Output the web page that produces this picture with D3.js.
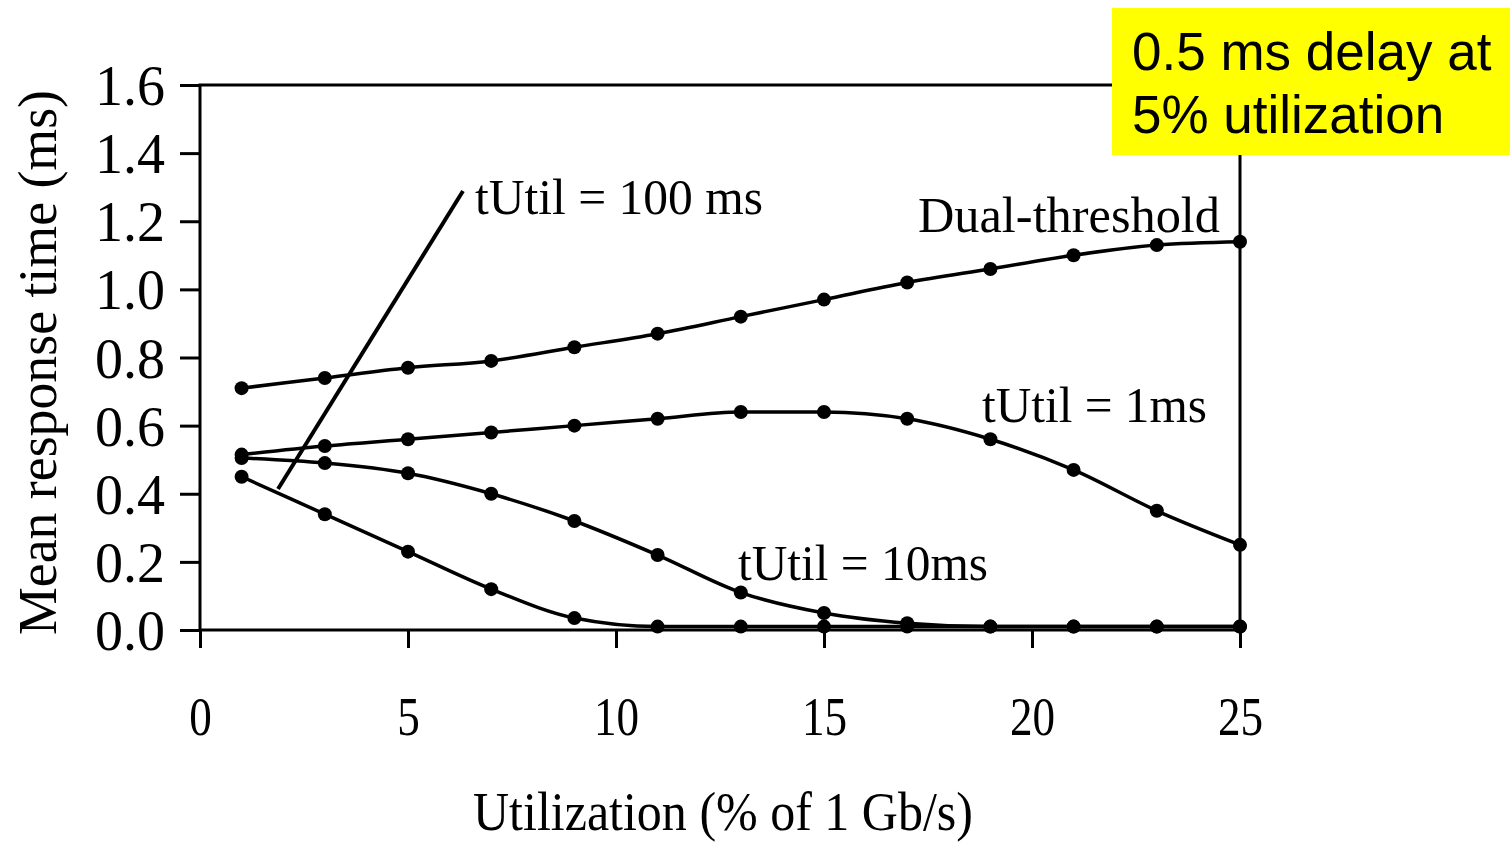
<!DOCTYPE html>
<html>
<head>
<meta charset="utf-8">
<script src="https://cdn.jsdelivr.net/npm/d3@7"></script>
<style>
  body { margin: 0; background: #fff; }
  svg { display: block; }
  text { font-family: "Liberation Serif", "Times New Roman", serif; fill: #000; }
</style>
</head>
<body>
<div id="chart"></div>
<script>
"use strict";

// utilization (% of 1 Gb/s)
var utilization = [1, 3, 5, 7, 9, 11, 13, 15, 17, 19, 21, 23, 25];
var dualThreshold = [0.71, 0.74, 0.77, 0.79, 0.83, 0.87, 0.92, 0.97, 1.02, 1.06, 1.10, 1.13, 1.14];
var tUtil1ms = [0.515, 0.54, 0.56, 0.58, 0.60, 0.62, 0.64, 0.64, 0.62, 0.56, 0.47, 0.35, 0.25];
var tUtil10ms = [0.505, 0.49, 0.46, 0.40, 0.32, 0.22, 0.11, 0.05, 0.02, 0.01, 0.01, 0.01, 0.01];
var tUtil100ms = [0.45, 0.34, 0.23, 0.12, 0.035, 0.01, 0.01, 0.01, 0.01, 0.01, 0.01, 0.01, 0.01];
var xTicks = [0, 5, 10, 15, 20, 25];
var yTicks = [0, 0.2, 0.4, 0.6, 0.8, 1.0, 1.2, 1.4, 1.6];

var W = 1510, H = 843;
var svg = d3.select('#chart').append('svg').attr('width', W).attr('height', H);

var x = d3.scaleLinear().domain([0, 25]).range([200, 1240]);
var y = d3.scaleLinear().domain([0, 1.6]).range([630, 85]);

// frame
svg.append('rect')
  .attr('x', x(0)).attr('y', y(1.6))
  .attr('width', x(25) - x(0)).attr('height', y(0) - y(1.6))
  .attr('fill', 'none').attr('stroke', '#000').attr('stroke-width', 3);

// y axis
var yAxis = svg.append('g').attr('transform', 'translate(' + x(0) + ',0)')
  .call(d3.axisLeft(y).tickValues(yTicks).tickSize(20).tickSizeOuter(0).tickPadding(15).tickFormat(d3.format('.1f')));
yAxis.select('.domain').remove();
yAxis.selectAll('line').attr('stroke-width', 3);
yAxis.selectAll('text').style('font-size', '56px').style('font-family', '"Liberation Serif", serif').attr('dy', '0.35em');

// x axis
var xAxis = svg.append('g').attr('transform', 'translate(0,' + y(0) + ')')
  .call(d3.axisBottom(x).tickValues(xTicks).tickSize(18).tickSizeOuter(0).tickFormat(d3.format('d')));
xAxis.select('.domain').remove();
xAxis.selectAll('line').attr('stroke-width', 3);
xAxis.selectAll('text').remove();
xAxis.selectAll('.tick').append('text')
  .attr('transform', 'translate(0,105) scale(0.82,1)')
  .attr('text-anchor', 'middle')
  .style('font-size', '55px')
  .style('font-family', '"Liberation Serif", serif')
  .text(function (d) { return d; });

// axis titles
svg.append('text')
  .attr('x', 473).attr('y', 830)
  .attr('textLength', 500).attr('lengthAdjust', 'spacingAndGlyphs')
  .style('font-size', '55px')
  .text('Utilization (% of 1 Gb/s)');

svg.append('text')
  .attr('transform', 'translate(56,635) rotate(-90)')
  .attr('textLength', 545).attr('lengthAdjust', 'spacingAndGlyphs')
  .style('font-size', '54px')
  .text('Mean response time (ms)');

// series
var seriesList = [dualThreshold, tUtil1ms, tUtil10ms, tUtil100ms];
var line = d3.line()
  .x(function (d, i) { return x(utilization[i]); })
  .y(function (d) { return y(d); })
  .curve(d3.curveMonotoneX);

seriesList.forEach(function (vals) {
  svg.append('path').datum(vals)
    .attr('d', line)
    .attr('fill', 'none')
    .attr('stroke', '#000')
    .attr('stroke-width', 3.5);
  svg.append('g').selectAll('circle').data(vals).enter().append('circle')
    .attr('cx', function (d, i) { return x(utilization[i]); })
    .attr('cy', function (d) { return y(d); })
    .attr('r', 7)
    .attr('fill', '#000');
});

// series labels
var labels = [
  { t: 'tUtil = 100 ms', x: 475, y: 214, w: 288 },
  { t: 'Dual-threshold', x: 918, y: 232, w: 302 },
  { t: 'tUtil = 1ms', x: 982, y: 422, w: 225 },
  { t: 'tUtil = 10ms', x: 738, y: 580, w: 250 }
];
svg.selectAll('.lbl').data(labels).enter().append('text')
  .attr('class', 'lbl')
  .attr('x', function (d) { return d.x; })
  .attr('y', function (d) { return d.y; })
  .attr('textLength', function (d) { return d.w; })
  .attr('lengthAdjust', 'spacingAndGlyphs')
  .style('font-size', '51px')
  .text(function (d) { return d.t; });

// pointer line for the 100 ms label
svg.append('line')
  .attr('x1', 278).attr('y1', 489).attr('x2', 463).attr('y2', 191)
  .attr('stroke', '#000').attr('stroke-width', 4);

// yellow note
svg.append('rect').attr('x', 1112).attr('y', 8).attr('width', 398).attr('height', 147).attr('fill', '#ffff00');
var note = svg.append('text')
  .style('font-family', '"Liberation Sans", Arial, sans-serif')
  .style('font-size', '53px');
note.append('tspan').attr('x', 1132).attr('y', 70).text('0.5 ms delay at');
note.append('tspan').attr('x', 1132).attr('y', 133).text('5% utilization');
</script>
</body>
</html>
